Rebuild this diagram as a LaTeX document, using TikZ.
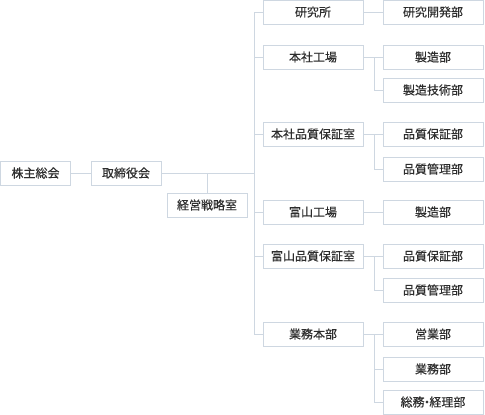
\documentclass[tikz,border=0pt]{standalone}
\usepackage{fontspec}
\setmainfont{Noto Sans CJK JP}[FakeBold=0.3]
\definecolor{orgline}{RGB}{206,215,225}
\definecolor{orgtext}{RGB}{45,45,45}
\usepackage{tikz}
\usetikzlibrary{positioning,calc}

\begin{document}
\begin{tikzpicture}[x=1pt,y=-1pt,
    unit/.style={draw=orgline,line width=1pt,fill=white,text=orgtext,minimum height=24pt,inner sep=0pt,font=\fontsize{12}{14}\selectfont},
    top/.style={unit,minimum width=70pt},
    dept/.style={unit,minimum width=100pt},
    link/.style={draw=orgline,line width=1pt}]
  \useasboundingbox (0,0) rectangle (485,415);
  % left part
  \node[top] (sokai) at (35.5,173) {株主総会};
  \node[top] (torishimari) at (126,173) {取締役会};
  \node[unit,minimum width=80pt] (senryaku) at (207,205) {経営戦略室};
  % second level
  \node[dept] (kenkyusho) at (313,12) {研究所};
  \node[dept] (honsha) at (313,57) {本社工場};
  \node[dept] (honshaqa) at (313,134) {本社品質保証室};
  \node[dept] (toyama) at (313,212) {富山工場};
  \node[dept] (toyamaqa) at (313,256) {富山品質保証室};
  \node[dept] (gyomu) at (313,334) {業務本部};
  % third level
  \node[dept] (kaihatsu) at (433,12) {研究開発部};
  \node[dept] (seizo1) at (433,57) {製造部};
  \node[dept] (gijutsu) at (433,90) {製造技術部};
  \node[dept] (hosho1) at (433,134) {品質保証部};
  \node[dept] (kanri1) at (433,169) {品質管理部};
  \node[dept] (seizo2) at (433,212) {製造部};
  \node[dept] (hosho2) at (433,256) {品質保証部};
  \node[dept] (kanri2) at (433,290) {品質管理部};
  \node[dept] (eigyo) at (433,334) {営業部};
  \node[dept] (gyomubu) at (433,369) {業務部};
  \node[dept] (somu) at (433,402) {総務\kern-0.3em・\kern-0.3em経理部};
  \coordinate (trunk) at (254,0);
  \coordinate (fork) at (374,0);
  % connectors
  \draw[link] (sokai) -- (torishimari);
  \draw[link] (torishimari.east) -- (torishimari.east -| trunk);
  \draw[link] (senryaku.north) -- (senryaku.north |- torishimari.east);
  \draw[link] (kenkyusho.west) -- (kenkyusho.west -| trunk) |- (gyomu.west);
  \foreach \n in {honsha,honshaqa,toyama,toyamaqa}
    \draw[link] (\n.west) -- (\n.west -| trunk);
  \draw[link] (kenkyusho) -- (kaihatsu);
  \draw[link] (honsha) -- (seizo1);
  \draw[link] (fork |- seizo1) |- (gijutsu.west);
  \draw[link] (honshaqa) -- (hosho1);
  \draw[link] (fork |- hosho1) |- (kanri1.west);
  \draw[link] (toyama) -- (seizo2);
  \draw[link] (toyamaqa) -- (hosho2);
  \draw[link] (fork |- hosho2) |- (kanri2.west);
  \draw[link] (gyomu) -- (eigyo);
  \draw[link] (fork |- eigyo) |- (somu.west);
  \draw[link] (gyomubu.west) -- (gyomubu.west -| fork);
\end{tikzpicture}
\end{document}
